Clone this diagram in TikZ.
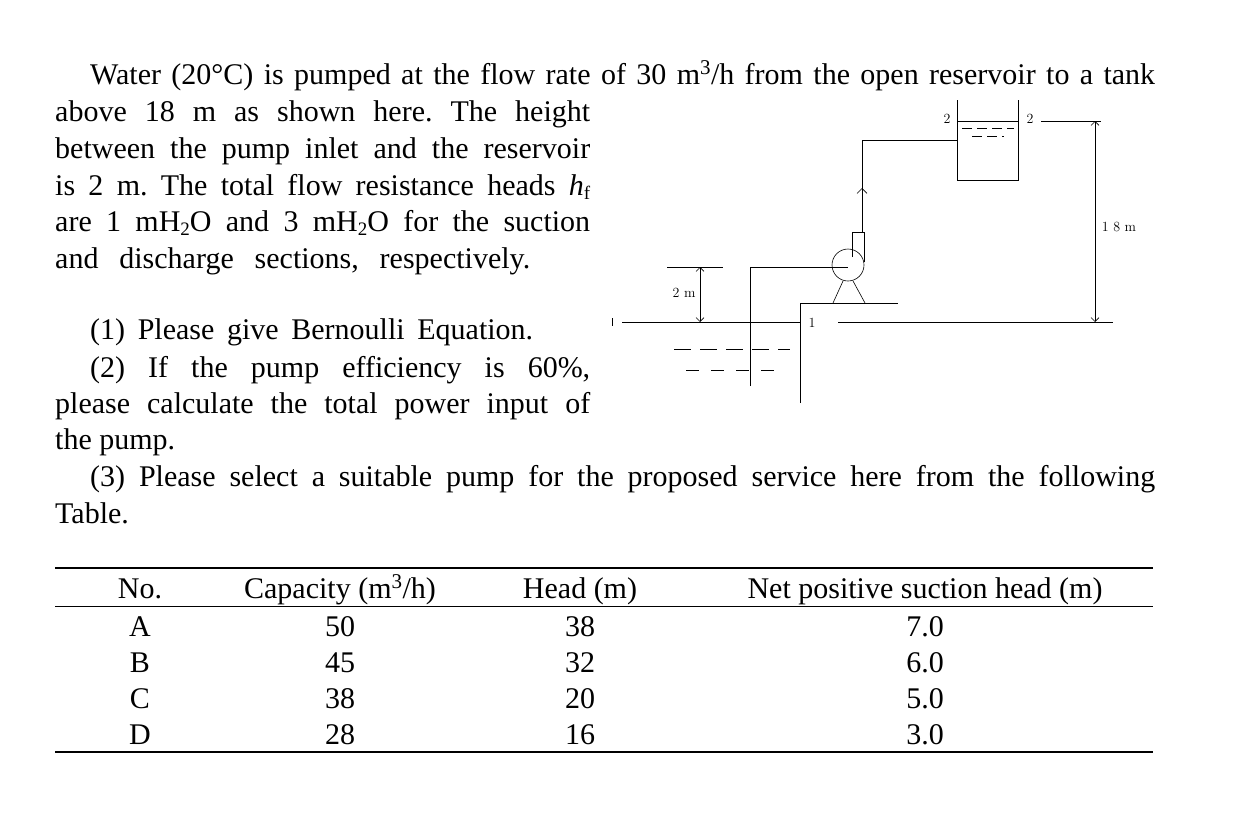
\documentclass[tikz,border=0pt]{standalone}
\usepackage{fontspec}
\setmainfont{Liberation Serif}
\newfontfamily\lmfont{Latin Modern Roman}
\usetikzlibrary{arrows.meta}
\frenchspacing
\newcommand{\lowtxt}[1]{\raisebox{-0.3ex}{\fontsize{19}{19}\selectfont #1}}
\tikzset{
  txt/.style={anchor=base west, inner sep=0pt, font=\fontsize{30}{34}\selectfont},
  cell/.style={anchor=base, inner sep=0pt, font=\fontsize{30}{34}\selectfont},
  lab/.style={inner sep=0pt, font=\lmfont\fontsize{14}{14}\selectfont},
  pipe/.style={line width=1pt},
  dim/.style={line width=0.6pt, {Straight Barb[length=4pt]}-{Straight Barb[length=4pt]}}
}
\begin{document}
\begin{tikzpicture}[x=1pt,y=-1pt]
  \useasboundingbox (0,0) rectangle (1238,820);

  % problem text
  \node[txt] (l1) at (90,84) {\hbox to 1065pt{Water (20°C) is pumped at the flow rate of 30 m\textsuperscript{3}/h from the open reservoir to a tank}};
  \node[txt] (l2) at (55,121) {\hbox to 535pt{above 18 m as shown here. The height}};
  \node[txt] (l3) at (55,158) {\hbox to 535pt{between the pump inlet and the reservoir}};
  \node[txt] (l4) at (55,195) {\hbox to 535pt{is 2 m. The total flow resistance heads \textit{h}\lowtxt{f}}};
  \node[txt] (l5) at (55,231) {\hbox to 535pt{are 1 mH\lowtxt{2}O and 3 mH\lowtxt{2}O for the suction}};
  \node[txt] (l6) at (55,268) {\hbox to 475pt{and discharge sections, respectively.}};

  \node[txt] (q1) at (90,339) {\hbox to 443pt{(1) Please give Bernoulli Equation.}};
  \node[txt] (q2) at (90,377) {\hbox to 500pt{(2) If the pump efficiency is 60\%,}};
  \node[txt] (q2b) at (55,413) {\hbox to 535pt{please calculate the total power input of}};
  \node[txt] (q2c) at (55,449) {the pump.};
  \node[txt] (q3) at (90,486) {\hbox to 1065pt{(3) Please select a suitable pump for the proposed service here from the following}};
  \node[txt] (q3b) at (55,523) {Table.};

  % reservoir and ground
  \draw[line width=0.6pt] (612,318) -- (612,326);
  \draw[line width=0.6pt] (622,322) -- (800,322);
  \draw[line width=0.6pt] (838,322) -- (1113,322);
  \node[lab] (p1) at (812,323) {1};
  \draw[line width=0.6pt, dash pattern=on 17pt off 9pt] (674,349) -- (790,349);
  \draw[line width=0.6pt, dash pattern=on 13pt off 12pt] (686,370) -- (780,370);
  \draw[line width=0.6pt] (800,403) -- (800,303) -- (898,303);

  % pump
  \node[draw, circle, line width=0.6pt, minimum size=32pt, inner sep=0pt] (pump) at (848,265) {};
  \draw[line width=0.6pt] (843,281) -- (833,303);
  \draw[line width=0.6pt] (853,281) -- (865,303);
  \draw[line width=0.6pt] (852,257) -- (852,232) -- (864,232) -- (864,262);
  \coordinate (sin) at (750,386);
  \coordinate (sbend) at (750,267);
  \draw[pipe] (sin) -- (sbend) -- (sbend -| pump.center);

  % discharge pipe and tank
  \coordinate (dtop) at (862,140);
  \coordinate (tin) at (957,140);
  \draw[pipe] (862,232) -- (dtop) -- (tin);
  \draw[line width=0.6pt, -{Straight Barb[length=5pt]}] (862,200) -- (862,188);
  \draw[line width=0.8pt] (957,100) -- (957,180) -- (1018,180) -- (1018,100);
  \draw[line width=0.6pt] (957,121) -- (1018,121);
  \draw[line width=0.5pt, dash pattern=on 10pt off 5pt] (962,128) -- (1014,128);
  \draw[line width=0.5pt, dash pattern=on 10pt off 5pt] (972,136) -- (1004,136);
  \node[lab] (p2a) at (947,119) {2};
  \node[lab] (p2b) at (1030,119) {2};

  % dimensions
  \draw[line width=0.6pt] (667,267) -- (723,267);
  \coordinate (d2a) at (700,267);
  \coordinate (d2b) at (700,322);
  \draw[dim] (d2a) -- (d2b);
  \node[lab] (h2) at (684,293) {2 m};
  \draw[line width=0.6pt] (1041,121) -- (1101,121);
  \coordinate (d18a) at (1095,121);
  \coordinate (d18b) at (1095,322);
  \draw[dim] (d18a) -- (d18b);
  \node[lab] (h18) at (1119,227) {1 8 m};

  % table
  \draw[line width=1.2pt] (55,568) -- (1153,568);
  \draw[line width=1pt] (55,606) -- (1153,606);
  \draw[line width=1.2pt] (55,752) -- (1153,752);
  \node[cell] (hno) at (140,598) {No.};
  \node[cell] (hcap) at (340,598) {Capacity (m\textsuperscript{3}/h)};
  \node[cell] (hhead) at (580,598) {Head (m)};
  \node[cell] (hnpsh) at (925,598) {Net positive suction head (m)};
  \foreach \n/\c/\h/\s [count=\i] in {A/50/38/7.0, B/45/32/6.0, C/38/20/5.0, D/28/16/3.0} {
    \node[cell] (no\i) at (140,600+36*\i) {\n};
    \node[cell] (cap\i) at (340,600+36*\i) {\c};
    \node[cell] (head\i) at (580,600+36*\i) {\h};
    \node[cell] (npsh\i) at (925,600+36*\i) {\s};
  }
\end{tikzpicture}
\end{document}
